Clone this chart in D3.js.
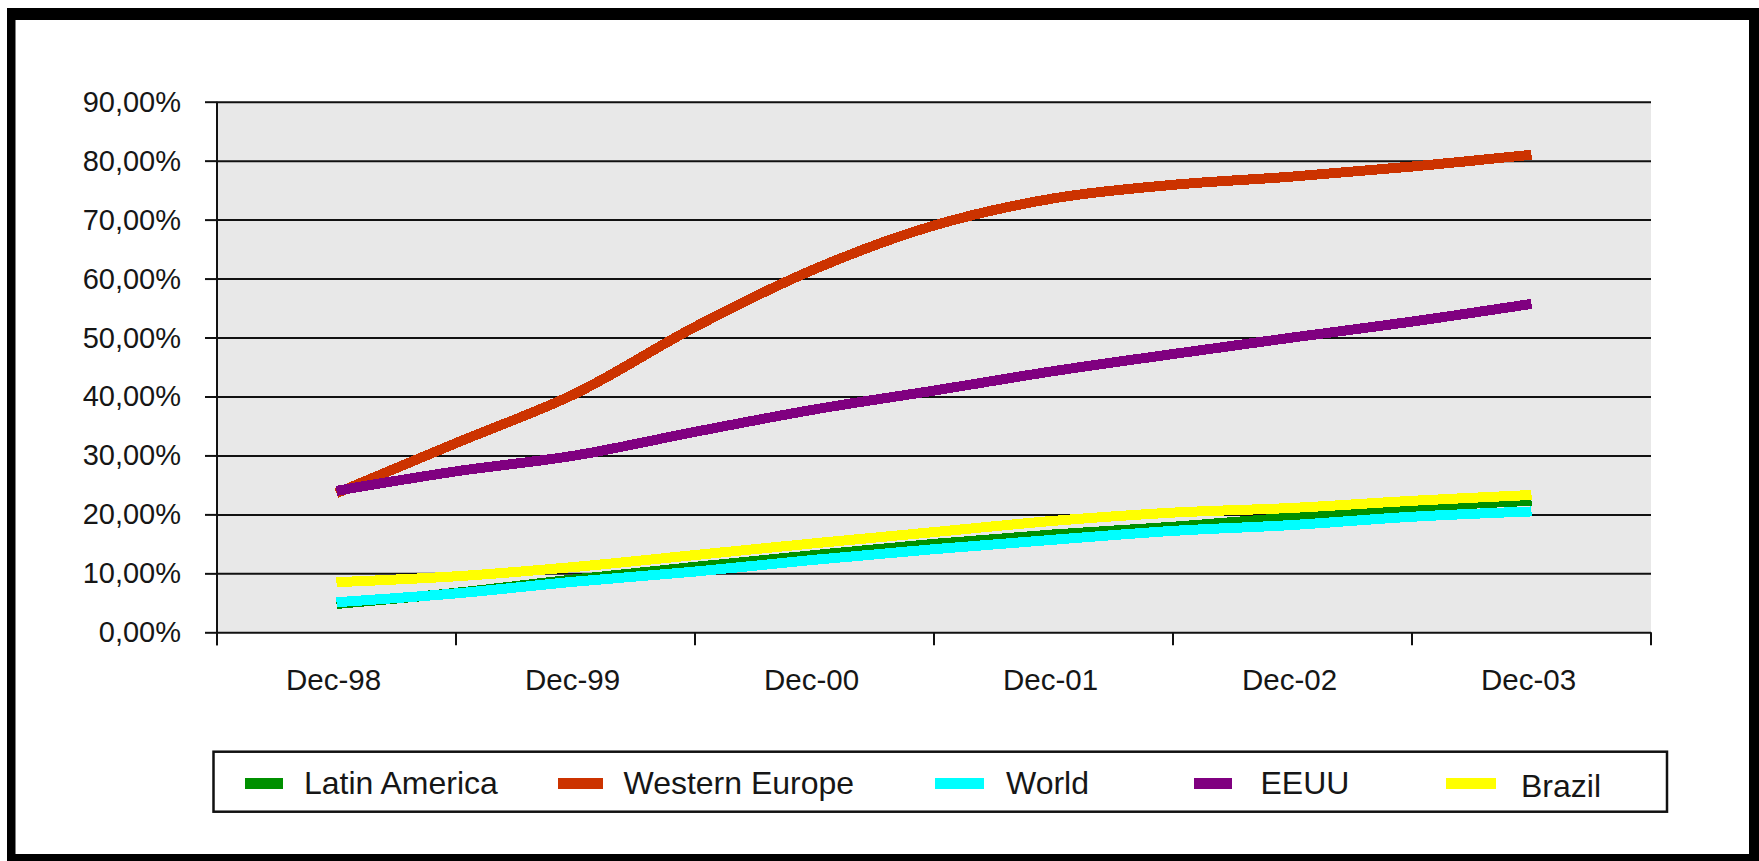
<!DOCTYPE html>
<html>
<head>
<meta charset="utf-8">
<script src="https://cdn.jsdelivr.net/npm/d3@7"></script>
<style>
  html, body { margin: 0; padding: 0; background: #fff; }
  svg { display: block; }
  text { font-family: "Liberation Sans", Arial, sans-serif; fill: #161616; }
</style>
</head>
<body>
<svg id="chart" width="1759" height="861"></svg>
<script>
// ---- data ----
const categories = ["Dec-98", "Dec-99", "Dec-00", "Dec-01", "Dec-02", "Dec-03"];
// semi-annual observations, months after Dec-98
const months = [0, 6, 12, 18, 24, 30, 36, 42, 48, 54, 60];
const latinAmerica  = [4.8, 6.7, 9.0, 11.1, 13.1, 15.0, 16.6, 17.9, 19.5, 21.2, 22.3];
const westernEurope = [23.6, 32.1, 40.5, 51.8, 61.6, 69.0, 73.6, 75.9, 77.3, 79.0, 81.0];
const world         = [5.1, 6.6, 8.6, 10.3, 12.3, 14.1, 15.7, 17.2, 18.2, 19.6, 20.5];
const eeuu          = [24.0, 27.3, 30.0, 34.0, 37.8, 41.0, 44.3, 47.2, 50.0, 52.7, 55.7];
const brazil        = [8.5, 9.5, 11.1, 13.1, 15.1, 17.0, 18.9, 20.3, 21.1, 22.3, 23.3];
const seriesNames   = ["Latin America", "Western Europe", "World", "EEUU", "Brazil"];
const yTicks        = [0, 10, 20, 30, 40, 50, 60, 70, 80, 90];
const yTickLabels   = ["0,00%", "10,00%", "20,00%", "30,00%", "40,00%", "50,00%", "60,00%", "70,00%", "80,00%", "90,00%"];

const seriesValues = [latinAmerica, westernEurope, world, eeuu, brazil];
const colors = ["#009000", "#cc3300", "#00ffff", "#800080", "#ffff00"];

(function () {
// ---- layout ----
const svg = d3.select("#chart");
const W = 1759, H = 861;
const pLeft = 217, pRight = 1651, pTop = 101.7, pBottom = 632.3;

// outer frame
svg.append("rect").attr("x", 0).attr("y", 0).attr("width", W).attr("height", H).attr("fill", "#fff");
svg.append("rect").attr("x", 7).attr("y", 8).attr("width", W - 7).attr("height", H - 8).attr("fill", "#000");
svg.append("rect").attr("x", 15.5).attr("y", 20).attr("width", 1749 - 15.5).attr("height", 854 - 20).attr("fill", "#fff");

const x = d3.scaleBand().domain(categories).range([pLeft, pRight]).paddingInner(0).paddingOuter(0);
const bw = x.bandwidth();
const xm = d3.scaleLinear().domain([0, 60])
  .range([x(categories[0]) + bw / 2, x(categories[categories.length - 1]) + bw / 2]);
const y = d3.scaleLinear().domain([0, 90]).range([pBottom, pTop]);

// plot background
svg.append("rect").attr("x", pLeft).attr("y", pTop).attr("width", pRight - pLeft).attr("height", pBottom - pTop)
  .attr("fill", "#e8e8e8");

// gridlines
const grid = svg.append("g").attr("transform", `translate(${pLeft},0)`)
  .call(d3.axisLeft(y).tickValues(yTicks).tickSizeInner(-(pRight - pLeft)).tickSizeOuter(0).tickFormat(""));
grid.select(".domain").remove();
grid.selectAll("line").attr("stroke", "#111").attr("stroke-width", 2);

// y axis with ticks and labels
const yAxis = svg.append("g").attr("transform", `translate(${pLeft},0)`)
  .call(d3.axisLeft(y).tickValues(yTicks).tickSizeInner(12).tickSizeOuter(0).tickPadding(24)
    .tickFormat((d, i) => yTickLabels[i]));
yAxis.select(".domain").remove();
yAxis.selectAll("line").attr("stroke", "#111").attr("stroke-width", 2);
yAxis.selectAll("text").attr("font-size", 29).attr("dy", null).attr("y", 9.5)
  .attr("font-family", "Liberation Sans, Arial, sans-serif").attr("fill", "#161616");

// y axis line
svg.append("line").attr("x1", pLeft).attr("x2", pLeft).attr("y1", pTop).attr("y2", pBottom + 13)
  .attr("stroke", "#111").attr("stroke-width", 2);

// x axis ticks at category boundaries
const xEdges = categories.map(c => x(c)).concat([x(categories[categories.length - 1]) + bw]);
svg.append("g").selectAll("line").data(xEdges).join("line")
  .attr("x1", d => d).attr("x2", d => d).attr("y1", pBottom).attr("y2", pBottom + 13)
  .attr("stroke", "#111").attr("stroke-width", 2);

// x labels
svg.append("g").selectAll("text").data(categories).join("text")
  .attr("x", d => x(d) + bw / 2 - 3).attr("y", 689.5)
  .attr("text-anchor", "middle").attr("font-size", 29.5)
  .text(d => d);

// lines
const line = d3.line().x(d => xm(d[0])).y(d => y(d[1])).curve(d3.curveCatmullRom.alpha(0.5));
seriesValues.forEach((vals, i) => {
  svg.append("path")
    .datum(months.map((m, j) => [m, vals[j]]))
    .attr("d", line)
    .attr("fill", "none")
    .attr("stroke", colors[i])
    .attr("stroke-width", 10)
    .attr("stroke-linecap", "butt")
    .attr("stroke-linejoin", "round")
    .attr("shape-rendering", "crispEdges");
});

// legend
const legX = 213.5, legY = 751.7, legW = 1667 - 213.5, legH = 60;
svg.append("rect").attr("x", legX).attr("y", legY).attr("width", legW).attr("height", legH)
  .attr("fill", "#fff").attr("stroke", "#111").attr("stroke-width", 2.5);
const swatchX = [245, 558, 935, 1194, 1446];
const swatchW = [38, 45, 49, 38, 50];
const textX = [304, 623.5, 1006, 1260.5, 1521];
const legItems = svg.append("g").selectAll("g").data(seriesNames).join("g");
legItems.append("rect")
  .attr("x", (d, i) => swatchX[i]).attr("y", 778).attr("width", (d, i) => swatchW[i]).attr("height", 11)
  .attr("fill", (d, i) => colors[i]);
legItems.append("text")
  .attr("x", (d, i) => textX[i]).attr("y", (d, i) => i === 4 ? 797 : 794)
  .attr("font-size", 32).text(d => d);
})();
</script>
</body>
</html>
